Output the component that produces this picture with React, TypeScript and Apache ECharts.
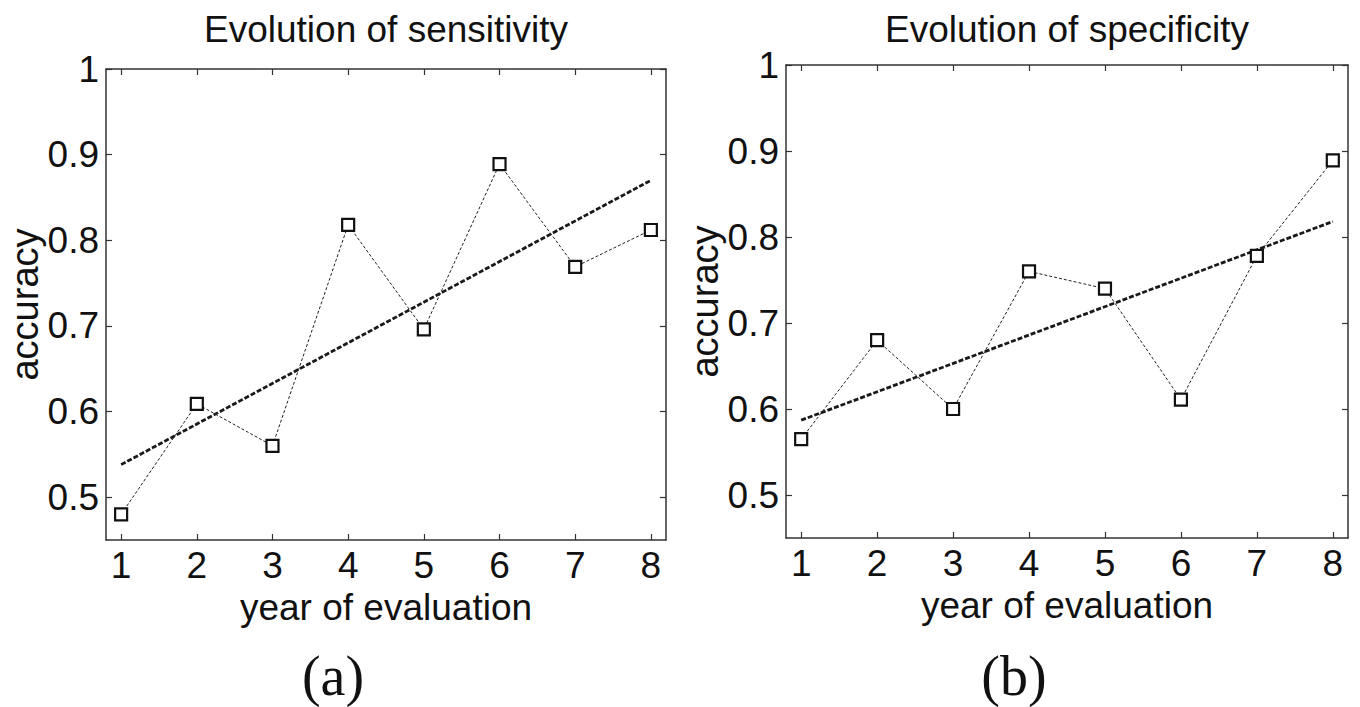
import React, { useEffect, useRef } from 'react';
import * as echarts from 'echarts';

const years = [1, 2, 3, 4, 5, 6, 7, 8];
const sensitivity = [0.48, 0.609, 0.56, 0.818, 0.696, 0.889, 0.769, 0.812];
const specificity = [0.565, 0.68, 0.6, 0.76, 0.74, 0.611, 0.778, 0.889];
const trendYears = [1, 8];
const sensitivityTrend = [0.538, 0.87];
const specificityTrend = [0.587, 0.818];
const yTicks = [0.5, 0.6, 0.7, 0.8, 0.9, 1];
const titles = ['Evolution of sensitivity', 'Evolution of specificity'];
const panelLabels = ['(a)', '(b)'];
const xName = 'year of evaluation';
const yName = 'accuracy';

const FONT = 'Liberation Sans';
const AXIS_COLOR = '#333';

const grids = [
  { left: 106, top: 69, width: 560, height: 471 },
  { left: 786, top: 65, width: 562, height: 473 },
];

export default function App() {
  const ref = useRef<HTMLDivElement>(null);
  useEffect(() => {
    if (!ref.current) return;
    const chart = echarts.init(ref.current, null, { renderer: 'svg' });
    const panels = [
      { values: sensitivity, trend: sensitivityTrend },
      { values: specificity, trend: specificityTrend },
    ];
    const xAxis: any[] = [];
    const yAxis: any[] = [];
    const series: any[] = [];
    const graphic: any[] = [];
    panels.forEach((p, i) => {
      const g = grids[i];
      const baseX = {
        type: 'value',
        gridIndex: i,
        min: 0.8,
        max: 8.2,
        splitLine: { show: false },
        axisLine: { show: true, onZero: false, lineStyle: { color: AXIS_COLOR, width: 1.5 } },
        axisTick: { show: true, inside: true, length: 6, customValues: years, lineStyle: { color: AXIS_COLOR, width: 1.2 } },
      };
      xAxis.push({
        ...baseX,
        position: 'bottom',
        name: xName,
        nameLocation: 'middle',
        nameGap: 45,
        nameTextStyle: { fontFamily: FONT, fontSize: 37, color: '#111' },
        axisLabel: { show: true, customValues: years, margin: 7, fontFamily: FONT, fontSize: 37, color: '#111' },
      });
      xAxis.push({ ...baseX, position: 'top', axisLabel: { show: false } });
      const baseY = {
        type: 'value',
        gridIndex: i,
        min: 0.45,
        max: 1,
        splitLine: { show: false },
        axisLine: { show: true, onZero: false, lineStyle: { color: AXIS_COLOR, width: 1.5 } },
        axisTick: { show: true, inside: true, length: 6, customValues: yTicks, lineStyle: { color: AXIS_COLOR, width: 1.2 } },
      };
      yAxis.push({
        ...baseY,
        position: 'left',
        name: yName,
        nameLocation: 'middle',
        nameGap: 62,
        nameTextStyle: { fontFamily: FONT, fontSize: 38, color: '#111' },
        axisLabel: {
          show: true,
          customValues: yTicks,
          margin: 7,
          fontFamily: FONT,
          fontSize: 37,
          color: '#111',
          formatter: (v: number) => (v === 1 ? '1' : v.toFixed(1)),
        },
      });
      yAxis.push({ ...baseY, position: 'right', axisLabel: { show: false } });

      series.push({
        type: 'line',
        xAxisIndex: i * 2,
        yAxisIndex: i * 2,
        data: trendYears.map((x, k) => [x, p.trend[k]]),
        symbol: 'none',
        lineStyle: { color: '#1a1a1a', width: 2.8, type: [5, 2] },
        z: 2,
      });
      series.push({
        type: 'line',
        xAxisIndex: i * 2,
        yAxisIndex: i * 2,
        data: years.map((x, k) => [x, p.values[k]]),
        symbol: 'rect',
        symbolSize: [12, 12],
        itemStyle: { color: '#fff', borderColor: '#111', borderWidth: 2.2 },
        lineStyle: { color: '#222', width: 1, type: [3, 2] },
        z: 3,
      });

      graphic.push({
        type: 'text',
        x: g.left + g.width / 2,
        y: 29,
        style: {
          text: titles[i],
          fontFamily: FONT,
          fontSize: 37,
          fill: '#111',
          align: 'center',
          verticalAlign: 'middle',
          textAlign: 'center',
          textVerticalAlign: 'middle',
        },
      });
      graphic.push({
        type: 'text',
        x: i === 0 ? 333 : 1014,
        y: 676,
        style: {
          text: panelLabels[i],
          fontFamily: 'Liberation Serif',
          fontSize: 56,
          fill: '#111',
          align: 'center',
          verticalAlign: 'middle',
          textAlign: 'center',
          textVerticalAlign: 'middle',
        },
      });
    });

    chart.setOption({
      animation: false,
      backgroundColor: '#fff',
      grid: grids.map((g) => ({ ...g, containLabel: false })),
      xAxis,
      yAxis,
      series,
      graphic,
    });
    return () => chart.dispose();
  }, []);
  return (
    <div
      ref={ref}
      style={{ position: 'fixed', left: 0, top: 0, width: 1360, height: 707, background: '#fff' }}
    />
  );
}
